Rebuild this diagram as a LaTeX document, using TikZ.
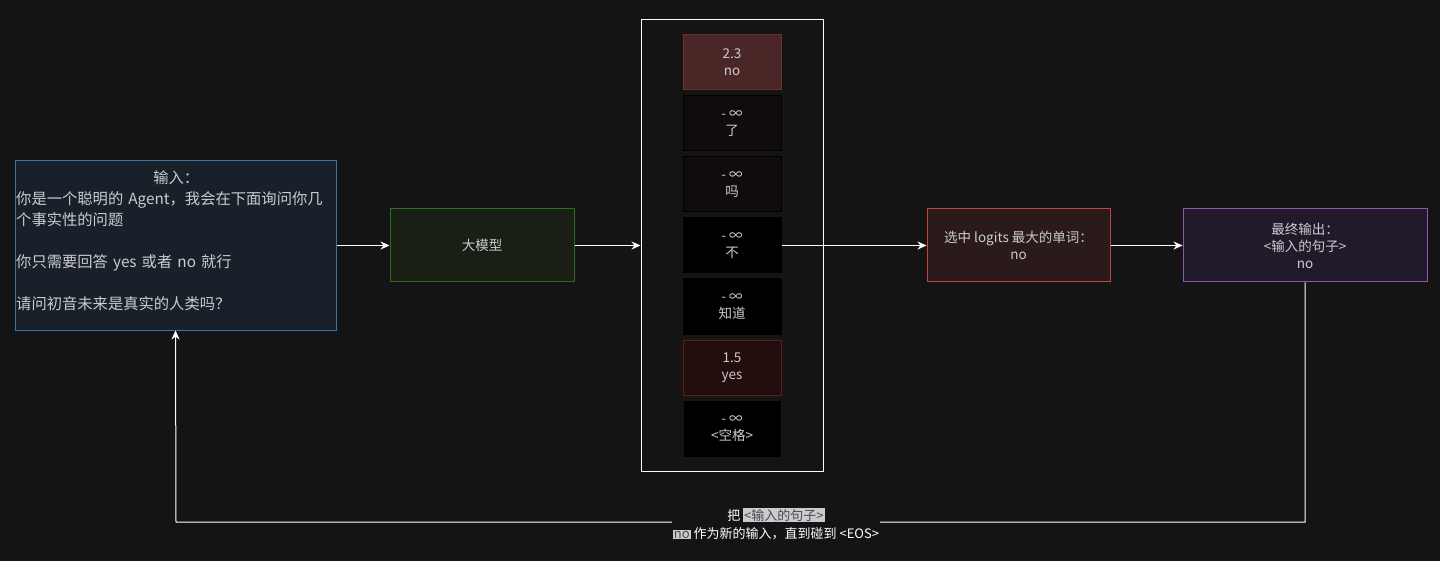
\documentclass[tikz,border=0pt]{standalone}
\usepackage{fontspec}
\setmainfont{Liberation Sans}
\newfontfamily\cjk{Noto Sans CJK SC}
\usetikzlibrary{arrows.meta}
\definecolor{bg}{HTML}{141414}
\definecolor{txt}{HTML}{CCCCCC}
\definecolor{inF}{HTML}{18202A}\definecolor{inD}{HTML}{3D6FA8}
\definecolor{llmF}{HTML}{1A1F16}\definecolor{llmD}{HTML}{2E6A20}
\definecolor{c1}{HTML}{4A2626}\definecolor{c1d}{HTML}{6E3030}
\definecolor{c2}{HTML}{100C0C}\definecolor{c3}{HTML}{000000}
\definecolor{c4}{HTML}{230C0C}\definecolor{c4d}{HTML}{5A2020}
\definecolor{selF}{HTML}{2A1A1A}\definecolor{selD}{HTML}{C04444}
\definecolor{outF}{HTML}{221A2A}\definecolor{outD}{HTML}{8A5AAA}
\definecolor{hl}{HTML}{C8CCD0}\definecolor{hlt}{HTML}{4A4A4A}
\tikzset{
  box/.style={draw, line width=1pt, inner sep=0pt, text=txt, align=center, font=\cjk\fontsize{13.5}{17}\selectfont},
  cell/.style={box, minimum width=98pt, minimum height=55pt, draw=black},
  arr/.style={draw=white, line width=1pt, -{Stealth[length=9pt,width=8pt]}}
}
\begin{document}
\begin{tikzpicture}[x=1pt,y=-1pt]
\fill[bg] (0,0) rectangle (1440,561);
\useasboundingbox (0,0) rectangle (1440,561);
\node[box, draw=white, minimum width=182pt, minimum height=451pt] (col) at (732,245.5) {};
\node[box, fill=inF, draw=inD, minimum width=321pt, minimum height=169pt] (in) at (175.5,245.5) {};
\node[text=txt, font=\cjk\fontsize{15.3}{21}\selectfont, align=left, text width=320pt, anchor=north west, inner sep=0pt] (intext) at (16,170) {\hfill 输入：\hfill\null\\你是一个聪明的 Agent，我会在下面询问你几\\个事实性的问题\\[21pt]你只需要回答 yes 或者 no 就行\\[21pt]请问初音未来是真实的人类吗？};
\node[box, fill=llmF, draw=llmD, minimum width=184pt, minimum height=73pt] (llm) at (482,245.5) {大模型};
\node[cell, fill=c1, draw=c1d] (t1) at (732,62.5) {2.3\\no};
\node[cell, fill=c2] (t2) at (732,123.5) {- ∞\\了};
\node[cell, fill=c2] (t3) at (732,184.5) {- ∞\\吗};
\node[cell, fill=c3] (t4) at (732,245.5) {- ∞\\不};
\node[cell, fill=c3] (t5) at (732,306.5) {- ∞\\知道};
\node[cell, fill=c4, draw=c4d] (t6) at (732,367.5) {1.5\\yes};
\node[cell, fill=c3, minimum width=96pt] (t7) at (732,428.5) {- ∞\\<空格>};
\node[box, fill=selF, draw=selD, minimum width=183pt, minimum height=73pt] (sel) at (1018.5,245.5) {选中 logits 最大的单词：\\no};
\node[box, fill=outF, draw=outD, minimum width=244pt, minimum height=73pt] (out) at (1305,245.5) {最终输出：\\<输入的句子>\\no};
\draw[arr] (in.east) -- (llm.west);
\draw[arr] (llm.east) -- (col.west);
\draw[arr] (t4.east) -- (sel.west);
\draw[arr] (sel.east) -- (out.west);
\coordinate (k1) at (1305,522);
\coordinate (k2) at (176,522);
\draw[arr] (out.south) -- (k1) -- (k2) -- (in.south);
\node[fill=bg, text=white, inner sep=1pt, align=center, font=\cjk\fontsize{13}{18}\selectfont] (lab) at (776,524) {把 {\setlength{\fboxsep}{1pt}\colorbox{hl}{\color{hlt}<输入的句子>}}\\{\setlength{\fboxsep}{1pt}\colorbox{hl}{\color{hlt}no}} 作为新的输入，直到碰到 <EOS>};
\end{tikzpicture}
\end{document}
